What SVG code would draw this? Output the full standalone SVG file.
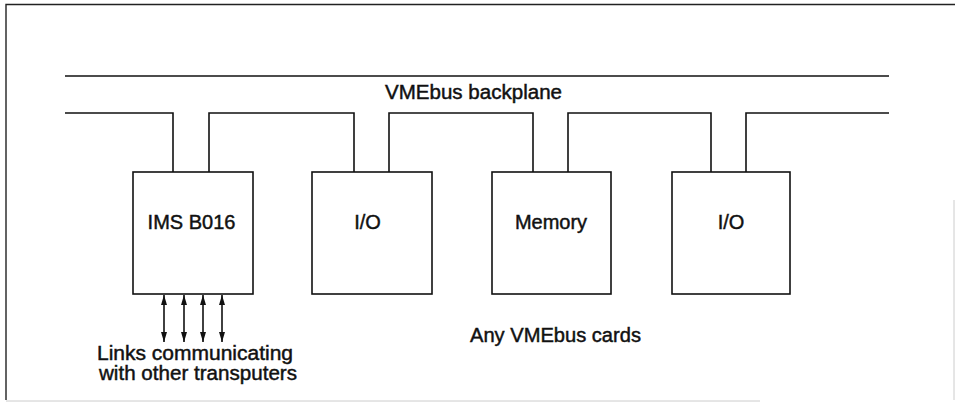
<svg xmlns="http://www.w3.org/2000/svg" width="955" height="405" viewBox="0 0 955 405">
<defs>
<style>
.ln{stroke:#111;stroke-width:1.6;fill:none}
.box{stroke:#111;stroke-width:1.6;fill:#fff}
.t{font-family:"Liberation Sans",Arial,sans-serif;font-size:20px;fill:#111;stroke:#111;stroke-width:0.45;text-anchor:middle}
.frame{stroke:#222;stroke-width:1.4;fill:none}
.faint{stroke:#ccc;stroke-width:1;fill:none}
</style>
<marker id="ah" viewBox="0 0 10 10" refX="10" refY="5" markerWidth="10" markerHeight="6" markerUnits="userSpaceOnUse" orient="auto-start-reverse" preserveAspectRatio="none">
<path d="M0,0 L10,5 L0,10 Z" fill="#111"/>
</marker>
</defs>
<rect width="955" height="405" fill="#fff"/>
<g id="frame">
<path class="frame" d="M6,400 V4.5 H955"/>
<path class="faint" d="M954,200 V400 M6,401 H760"/>
</g>
<g id="connectors">
<path class="ln" d="M65,76 H889"/>
<path class="ln" d="M65,113 H173 V172 M209,172 V113 H354 V172 M389,172 V113 H533 V172 M568,172 V113 H711 V172 M746,172 V113 H889"/>
<line class="ln" x1="164" y1="295" x2="164" y2="342" marker-start="url(#ah)" marker-end="url(#ah)"/>
<line class="ln" x1="184" y1="295" x2="184" y2="342" marker-start="url(#ah)" marker-end="url(#ah)"/>
<line class="ln" x1="203" y1="295" x2="203" y2="342" marker-start="url(#ah)" marker-end="url(#ah)"/>
<line class="ln" x1="222" y1="295" x2="222" y2="342" marker-start="url(#ah)" marker-end="url(#ah)"/>
</g>
<g id="backplane">
<text class="t" x="473.5" y="99" textLength="177" lengthAdjust="spacingAndGlyphs">VMEbus backplane</text>
</g>
<g id="ims">
<rect class="box" x="133" y="172" width="120" height="122"/>
<text class="t" x="191.5" y="229">IMS B016</text>
</g>
<g id="io1">
<rect class="box" x="312" y="172" width="120" height="122"/>
<text class="t" x="367.5" y="229">I/O</text>
</g>
<g id="memory">
<rect class="box" x="492" y="172" width="119" height="122"/>
<text class="t" x="551" y="229">Memory</text>
</g>
<g id="io2">
<rect class="box" x="672" y="172" width="118" height="122"/>
<text class="t" x="731" y="229">I/O</text>
</g>
<g id="labels">
<text class="t" x="195" y="360" textLength="196" lengthAdjust="spacingAndGlyphs">Links communicating</text>
<text class="t" x="198" y="380" textLength="198" lengthAdjust="spacingAndGlyphs">with other transputers</text>
<text class="t" x="555.5" y="342" textLength="171" lengthAdjust="spacingAndGlyphs">Any VMEbus cards</text>
</g>
</svg>
